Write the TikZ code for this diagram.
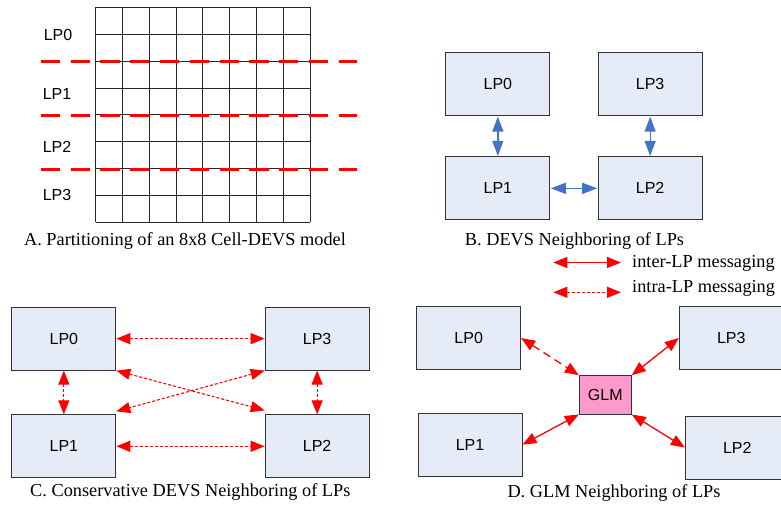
\documentclass[tikz,border=0pt]{standalone}
\usepackage{fontspec}
\setmainfont{Liberation Serif}
\newfontfamily\arialf{Liberation Sans}
\usetikzlibrary{arrows.meta}
\definecolor{boxfill}{HTML}{E6ECF7}
\definecolor{boxline}{HTML}{333333}
\definecolor{bluearr}{HTML}{4472C4}
\definecolor{glmfill}{HTML}{FF99CC}
\begin{document}
\begin{tikzpicture}[x=1pt,y=-1pt,
  lpbox/.style={draw=boxline, fill=boxfill, line width=0.9pt, minimum width=104pt, minimum height=63pt, inner sep=0pt, font=\arialf\fontsize{16}{19}\selectfont},
  lplabel/.style={inner sep=0pt, font=\arialf\fontsize{16}{19}\selectfont},
  caption/.style={inner sep=0pt, font=\fontsize{18.3}{21}\selectfont},
  gridline/.style={draw=black!85, line width=0.8pt},
  partline/.style={draw=red, line width=2.6pt, dash pattern=on 19.3pt off 10.5pt},
  bluebi/.style={draw=bluearr, line width=1.3pt, {Triangle[length=15pt,width=11pt]}-{Triangle[length=15pt,width=11pt]}, shorten <=0.5pt, shorten >=0.5pt},
  redbi/.style={draw=red, line width=1.3pt, {Triangle[length=14pt,width=11pt]}-{Triangle[length=14pt,width=11pt]}},
  reddot/.style={redbi, line width=1.1pt, dash pattern=on 3pt off 2pt},
  reddash/.style={redbi, dash pattern=on 8pt off 5pt}
]
\useasboundingbox (0,0) rectangle (781,505);

% ---------- Panel A ----------
\foreach \i in {0,...,8} {
  \draw[gridline] ({95.7+\i*26.79},7.3) -- ({95.7+\i*26.79},222.3);
  \draw[gridline] (95.7,{7.3+\i*26.875}) -- (310,{7.3+\i*26.875});
}
\foreach \yy in {61.7,115.7,169.3} {
  \draw[partline] (40.7,\yy) -- (357,\yy);
}
\node[lplabel] (aLP0) at (58,34.5) {LP0};
\node[lplabel] (aLP1) at (57,94) {LP1};
\node[lplabel] (aLP2) at (57,147) {LP2};
\node[lplabel] (aLP3) at (57,195) {LP3};
\node[caption] (capA) at (185,241) {A. Partitioning of an 8x8 Cell-DEVS model};

% ---------- Panel B ----------
\node[lpbox] (bLP0) at (497.85,84.2) {LP0};
\node[lpbox] (bLP3) at (650.15,84.2) {LP3};
\node[lpbox] (bLP1) at (497.85,188.35) {LP1};
\node[lpbox] (bLP2) at (650.15,188.35) {LP2};
\draw[bluebi] (bLP0.south) -- (bLP1.north);
\draw[bluebi] (bLP3.south) -- (bLP2.north);
\draw[bluebi] (bLP1.east) -- (bLP2.west);
\node[caption] (capB) at (574.5,241) {B. DEVS Neighboring of LPs};

% ---------- Legend ----------
\coordinate (l1a) at (553.3,262.5);
\coordinate (l1b) at (621,262.5);
\coordinate (l2a) at (553.3,292.3);
\coordinate (l2b) at (621,292.3);
\draw[redbi] (l1a) -- (l1b);
\draw[reddot] (l2a) -- (l2b);
\node[caption, anchor=west] (leg1) at (632,263.5) {inter-LP messaging};
\node[caption, anchor=west] (leg2) at (632,288.5) {intra-LP messaging};

% ---------- Panel C ----------
\node[lpbox] (cLP0) at (63.85,338.65) {LP0};
\node[lpbox] (cLP3) at (317.15,338.65) {LP3};
\node[lpbox] (cLP1) at (63.85,446.3) {LP1};
\node[lpbox] (cLP2) at (317.15,446.3) {LP2};
\draw[reddot] (cLP0.east) -- (cLP3.west);
\draw[reddot] (cLP1.east) -- (cLP2.west);
\draw[reddot] (cLP0.south) -- (cLP1.north);
\draw[reddot] (cLP3.south) -- (cLP2.north);
\draw[reddot] (cLP0.south east) -- ([yshift=4pt]cLP2.north west);
\draw[reddot] (cLP3.south west) -- ([yshift=3pt]cLP1.north east);
\node[caption] (capC) at (190.3,491.7) {C. Conservative DEVS Neighboring of LPs};

% ---------- Panel D ----------
\node[lpbox] (dLP0) at (468.7,338) {LP0};
\node[lpbox] (dLP3) at (731.3,338) {LP3};
\node[lpbox] (dLP1) at (470,444.65) {LP1};
\node[lpbox] (dLP2) at (737.3,447.5) {LP2};
\node[draw=boxline, fill=glmfill, line width=0.9pt, minimum width=52pt, minimum height=38.3pt, inner sep=0pt, font=\arialf\fontsize{16}{19}\selectfont] (glm) at (605.3,394.85) {GLM};
\draw[reddash] (dLP0.east) -- (glm.north west);
\draw[redbi] (dLP3.west) -- (glm.north east);
\draw[redbi] (dLP1.east) -- (glm.south west);
\draw[redbi] (glm.south east) -- (dLP2.west);
\node[caption] (capD) at (614,492.7) {D. GLM Neighboring of LPs};
\end{tikzpicture}
\end{document}
